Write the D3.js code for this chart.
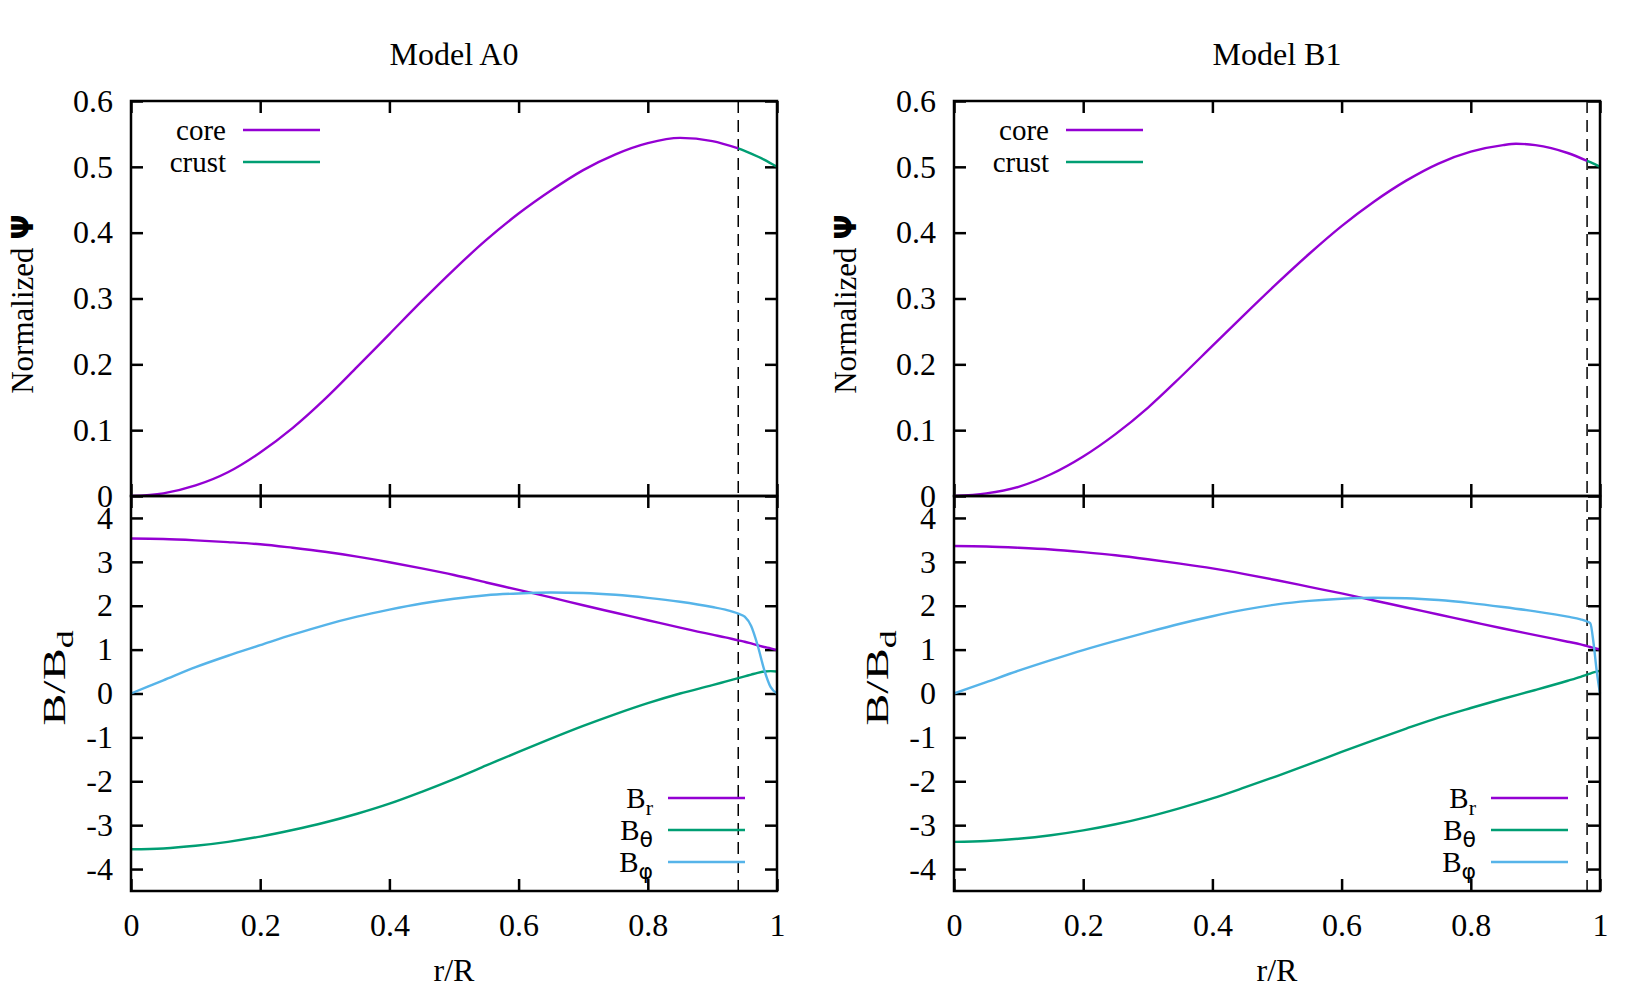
<!DOCTYPE html>
<html><head><meta charset="utf-8">
<script src="https://cdn.jsdelivr.net/npm/d3@7"></script>
<style>
body{margin:0;background:#fff}
text{font-family:"Liberation Serif","Times New Roman",serif;fill:#000}
</style>
</head><body>
<svg id="c" width="1652" height="992"></svg>
<script>
// ---------------- DATA ----------------
const modelTitles = ["Model A0", "Model B1"];
const crustBoundary = [0.94, 0.98];

const psiTicks = [0, 0.1, 0.2, 0.3, 0.4, 0.5, 0.6];
const psiTickLabels = ["0", "0.1", "0.2", "0.3", "0.4", "0.5", "0.6"];
const bTicks = [-4, -3, -2, -1, 0, 1, 2, 3, 4];
const bTickLabels = ["-4", "-3", "-2", "-1", "0", "1", "2", "3", "4"];
const rTicks = [0, 0.2, 0.4, 0.6, 0.8, 1];
const rTickLabels = ["0", "0.2", "0.4", "0.6", "0.8", "1"];

const psiLegend = ["core", "crust"];
const bLegend = [["B", "r"], ["B", "θ"], ["B", "φ"]];

// Model A0 — normalized Psi
const rPsiCoreA0 = [0, 0.05, 0.1, 0.15, 0.2, 0.25, 0.3, 0.35, 0.4, 0.45, 0.5, 0.55, 0.6, 0.65, 0.7, 0.75, 0.8, 0.85, 0.9, 0.94];
const psiCoreA0  = [0, 0.004, 0.016, 0.036, 0.066, 0.103, 0.147, 0.196, 0.246, 0.296, 0.344, 0.389, 0.429, 0.464, 0.495, 0.519, 0.536, 0.544, 0.539, 0.528];
const rPsiCrustA0 = [0.94, 0.96, 0.98, 1.0];
const psiCrustA0  = [0.528, 0.520, 0.511, 0.500];

// Model B1 — normalized Psi
const rPsiCoreB1 = [0, 0.05, 0.1, 0.15, 0.2, 0.25, 0.3, 0.35, 0.4, 0.45, 0.5, 0.55, 0.6, 0.65, 0.7, 0.75, 0.8, 0.85, 0.87, 0.9, 0.95, 0.98];
const psiCoreB1  = [0, 0.004, 0.014, 0.033, 0.060, 0.094, 0.134, 0.180, 0.228, 0.276, 0.323, 0.368, 0.410, 0.447, 0.479, 0.505, 0.523, 0.533, 0.535, 0.533, 0.521, 0.509];
const rPsiCrustB1 = [0.98, 0.99, 1.0];
const psiCrustB1  = [0.509, 0.505, 0.500];

// Model A0 — field components
const rBA0   = [0, 0.05, 0.1, 0.15, 0.2, 0.25, 0.3, 0.35, 0.4, 0.45, 0.5, 0.55, 0.6, 0.65, 0.7, 0.75, 0.8, 0.85, 0.9, 0.92, 0.94, 0.95, 0.96, 0.97, 0.98, 0.99, 1.0];
const BrA0   = [3.53, 3.52, 3.49, 3.45, 3.40, 3.32, 3.23, 3.12, 2.99, 2.85, 2.70, 2.53, 2.36, 2.19, 2.01, 1.84, 1.67, 1.50, 1.34, 1.28, 1.21, 1.18, 1.14, 1.10, 1.06, 1.03, 0.99];
const BthA0  = [-3.55, -3.53, -3.47, -3.38, -3.26, -3.11, -2.94, -2.74, -2.51, -2.24, -1.95, -1.64, -1.33, -1.03, -0.74, -0.47, -0.22, 0.00, 0.19, 0.27, 0.35, 0.39, 0.43, 0.47, 0.50, 0.51, 0.50];
const BphA0  = [0, 0.30, 0.60, 0.86, 1.10, 1.34, 1.56, 1.75, 1.91, 2.05, 2.16, 2.24, 2.28, 2.30, 2.29, 2.25, 2.18, 2.09, 1.97, 1.91, 1.82, 1.75, 1.54, 1.10, 0.55, 0.15, 0];

// Model B1 — field components
const rBB1   = [0, 0.05, 0.1, 0.15, 0.2, 0.25, 0.3, 0.35, 0.4, 0.45, 0.5, 0.55, 0.6, 0.65, 0.7, 0.75, 0.8, 0.85, 0.9, 0.95, 0.97, 0.98, 0.985, 0.99, 0.995, 1.0];
const BrB1   = [3.36, 3.35, 3.32, 3.28, 3.22, 3.15, 3.06, 2.96, 2.85, 2.72, 2.58, 2.43, 2.28, 2.12, 1.96, 1.80, 1.64, 1.48, 1.33, 1.18, 1.12, 1.08, 1.06, 1.04, 1.02, 1.00];
const BthB1  = [-3.38, -3.36, -3.31, -3.23, -3.12, -2.98, -2.81, -2.61, -2.39, -2.14, -1.88, -1.61, -1.33, -1.06, -0.80, -0.55, -0.33, -0.12, 0.08, 0.29, 0.38, 0.43, 0.455, 0.48, 0.50, 0.52];
const BphB1  = [0, 0.26, 0.52, 0.76, 0.99, 1.20, 1.40, 1.59, 1.76, 1.91, 2.03, 2.11, 2.16, 2.18, 2.17, 2.13, 2.06, 1.97, 1.87, 1.75, 1.69, 1.64, 1.60, 1.15, 0.50, 0];

const colors = ["#9400D3", "#009E73", "#56B4E9"];

const models = [
  { title: modelTitles[0], boundary: crustBoundary[0],
    psi: [[rPsiCoreA0, psiCoreA0], [rPsiCrustA0, psiCrustA0]],
    b: [[rBA0, BrA0], [rBA0, BthA0], [rBA0, BphA0]] },
  { title: modelTitles[1], boundary: crustBoundary[1],
    psi: [[rPsiCoreB1, psiCoreB1], [rPsiCrustB1, psiCrustB1]],
    b: [[rBB1, BrB1], [rBB1, BthB1], [rBB1, BphB1]] }
];

// ---------------- LAYOUT ----------------
const svg = d3.select("#c");
const panelLefts = [131, 954];
const panelW = 646;
const topY0 = 101, midY = 496, botY1 = 891;
const FS = 32;
const LFS = 29;
const tick = 12;
const LW = 2.4;

function drawModel(m, left) {
  const g = svg.append("g");
  const x = d3.scaleLinear().domain([0, 1]).range([left, left + panelW]);
  const yP = d3.scaleLinear().domain([0, 0.6]).range([midY, topY0]);
  const yB = d3.scaleLinear().domain([-4.5, 4.5]).range([botY1, midY]);

  const styleAxis = (sel) => {
    sel.select(".domain").remove();
    sel.selectAll("line").attr("stroke", "#000").attr("stroke-width", 2.5);
    sel.selectAll("text").style("font-size", FS + "px")
      .style("font-family", '"Liberation Serif","Times New Roman",serif')
      .attr("fill", "#000");
  };

  // Upper panel axes
  g.append("g").attr("transform", `translate(${left},0)`)
    .call(d3.axisLeft(yP).tickValues(psiTicks).tickFormat((d, i) => psiTickLabels[i]).tickSize(-tick).tickPadding(18))
    .call(styleAxis);
  g.append("g").attr("transform", `translate(${left + panelW},0)`)
    .call(d3.axisRight(yP).tickValues(psiTicks).tickFormat("").tickSize(-tick))
    .call(styleAxis);
  g.append("g").attr("transform", `translate(0,${topY0})`)
    .call(d3.axisTop(x).tickValues(rTicks).tickFormat("").tickSize(-tick))
    .call(styleAxis);
  g.append("g").attr("transform", `translate(0,${midY})`)
    .call(d3.axisBottom(x).tickValues(rTicks).tickFormat("").tickSize(-tick))
    .call(styleAxis);

  // Lower panel axes
  g.append("g").attr("transform", `translate(${left},0)`)
    .call(d3.axisLeft(yB).tickValues(bTicks).tickFormat((d, i) => bTickLabels[i]).tickSize(-tick).tickPadding(18))
    .call(styleAxis);
  g.append("g").attr("transform", `translate(${left + panelW},0)`)
    .call(d3.axisRight(yB).tickValues(bTicks).tickFormat("").tickSize(-tick))
    .call(styleAxis);
  g.append("g").attr("transform", `translate(0,${midY})`)
    .call(d3.axisTop(x).tickValues(rTicks).tickFormat("").tickSize(-tick))
    .call(styleAxis);
  g.append("g").attr("transform", `translate(0,${botY1})`)
    .call(d3.axisBottom(x).tickValues(rTicks).tickFormat((d, i) => rTickLabels[i]).tickSize(-tick).tickPadding(22))
    .call(styleAxis);

  // Dashed crust boundary
  g.append("line")
    .attr("x1", x(m.boundary)).attr("x2", x(m.boundary))
    .attr("y1", topY0).attr("y2", botY1)
    .attr("stroke", "#000").attr("stroke-width", 1.5)
    .attr("stroke-dasharray", "12,7");

  // Psi curves
  m.psi.forEach(([rs, vs], i) => {
    const line = d3.line().x((d, j) => x(rs[j])).y(d => yP(d)).curve(d3.curveMonotoneX);
    g.append("path").attr("d", line(vs)).attr("fill", "none")
      .attr("stroke", colors[i]).attr("stroke-width", LW);
  });
  // B curves
  m.b.forEach(([rs, vs], i) => {
    const line = d3.line().x((d, j) => x(rs[j])).y(d => yB(d)).curve(d3.curveMonotoneX);
    g.append("path").attr("d", line(vs)).attr("fill", "none")
      .attr("stroke", colors[i]).attr("stroke-width", LW);
  });

  // Frames
  g.append("rect").attr("x", left).attr("y", topY0).attr("width", panelW).attr("height", midY - topY0)
    .attr("fill", "none").attr("stroke", "#000").attr("stroke-width", 2.5);
  g.append("rect").attr("x", left).attr("y", midY).attr("width", panelW).attr("height", botY1 - midY)
    .attr("fill", "none").attr("stroke", "#000").attr("stroke-width", 2.5);

  // Psi legend (top-left)
  psiLegend.forEach((lab, i) => {
    const ly = 130 + i * 32;
    g.append("text").attr("x", left + 95).attr("y", ly).attr("dy", "0.33em")
      .attr("text-anchor", "end").style("font-size", LFS + "px").text(lab);
    g.append("line").attr("x1", left + 112).attr("x2", left + 189)
      .attr("y1", ly).attr("y2", ly).attr("stroke", colors[i]).attr("stroke-width", LW);
  });

  // B legend (bottom-right)
  bLegend.forEach(([b, sub], i) => {
    const ly = 798 + i * 32;
    const t = g.append("text").attr("x", left + panelW - 124).attr("y", ly).attr("dy", "0.33em")
      .attr("text-anchor", "end").style("font-size", LFS + "px");
    t.append("tspan").text(b);
    t.append("tspan").attr("dy", 7).style("font-size", "22px")
      .style("font-family", sub === "r" ? null : '"DejaVu Sans",sans-serif').text(sub);
    g.append("line").attr("x1", left + panelW - 109).attr("x2", left + panelW - 32)
      .attr("y1", ly).attr("y2", ly).attr("stroke", colors[i]).attr("stroke-width", LW);
  });

  // Title
  g.append("text").attr("x", left + panelW / 2).attr("y", 65)
    .attr("text-anchor", "middle").style("font-size", FS + "px").text(m.title);

  // x label
  g.append("text").attr("x", left + panelW / 2).attr("y", 981)
    .attr("text-anchor", "middle").style("font-size", FS + "px").text("r/R");

  // y labels
  const yl1 = g.append("text").attr("transform", `translate(${left - 98},304) rotate(-90)`)
    .attr("text-anchor", "middle").style("font-size", "31px");
  yl1.append("tspan").text("Normalized ");
  yl1.append("tspan").style("font-family", '"DejaVu Sans",sans-serif').style("font-weight", "bold")
    .style("font-size", "30px").text("Ψ");

  const yl2 = g.append("text").attr("transform", `translate(${left - 66},678) rotate(-90) scale(1.5,1)`)
    .attr("text-anchor", "middle").style("font-size", FS + "px");
  yl2.append("tspan").text("B/B");
  yl2.append("tspan").attr("dy", 8).style("font-size", "24px").text("d");
}

models.forEach((m, i) => drawModel(m, panelLefts[i]));
</script>
</body></html>
